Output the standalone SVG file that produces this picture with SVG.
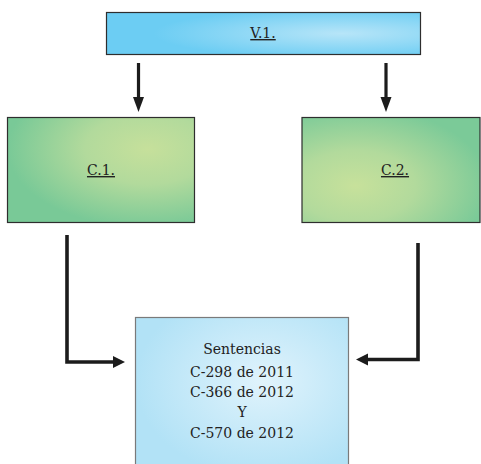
<svg xmlns="http://www.w3.org/2000/svg" width="481" height="464" viewBox="0 0 481 464">
  <style>
    .box { stroke: #2e2e2e; stroke-width: 1.2; }
    .lbl { font-family: "DejaVu Serif", "Liberation Serif", serif; font-size: 14px; fill: #222; text-anchor: middle; }
    .u { text-decoration: underline; }
    .wire { fill: none; stroke: #1c1c1c; stroke-width: 3.6; stroke-linejoin: miter; }
    .head { fill: #1c1c1c; }
  </style>
  <defs>
    <radialGradient id="gBlueTop" cx="0.75" cy="0.5" r="0.6">
      <stop offset="0" stop-color="#b7e5f8"/>
      <stop offset="1" stop-color="#6ccdf3"/>
    </radialGradient>
    <radialGradient id="gGreen1" cx="0.75" cy="0.3" r="0.75">
      <stop offset="0" stop-color="#c6e09b"/>
      <stop offset="0.45" stop-color="#b2da9c"/>
      <stop offset="1" stop-color="#79c997"/>
    </radialGradient>
    <radialGradient id="gGreen2" cx="0.3" cy="0.65" r="0.75">
      <stop offset="0" stop-color="#c7e19b"/>
      <stop offset="0.45" stop-color="#b2da9c"/>
      <stop offset="1" stop-color="#7bca98"/>
    </radialGradient>
    <radialGradient id="gBlueLow" cx="0.6" cy="0.4" r="0.6">
      <stop offset="0" stop-color="#e0f3fc"/>
      <stop offset="1" stop-color="#b2e2f6"/>
    </radialGradient>
  </defs>

  <g id="connectors">
    <!-- V.1. down to C.1. and C.2. -->
    <line class="wire" x1="138.5" y1="63" x2="138.5" y2="99" style="stroke-width:3.2"/>
    <polygon class="head" points="133,97 144,97 138.5,112"/>
    <line class="wire" x1="386" y1="63" x2="386" y2="99" style="stroke-width:3.2"/>
    <polygon class="head" points="380.5,97 391.5,97 386,112"/>
    <!-- C.1. to Sentencias -->
    <polyline class="wire" points="67,235 67,362 115,362"/>
    <polygon class="head" points="113,356 125,362 113,368"/>
    <!-- C.2. to Sentencias -->
    <polyline class="wire" points="418,243 418,359.5 367,359.5"/>
    <polygon class="head" points="368,353.5 356,359.5 368,365.5"/>
  </g>

  <g id="v1">
    <rect class="box" x="106.5" y="12.5" width="314" height="42" fill="url(#gBlueTop)"/>
    <text class="lbl u" x="263" y="38">V.1.</text>
  </g>

  <g id="c1">
    <rect class="box" x="7.5" y="117.5" width="187" height="105" fill="url(#gGreen1)"/>
    <text class="lbl u" x="101" y="175">C.1.</text>
  </g>

  <g id="c2">
    <rect class="box" x="302" y="117.5" width="178" height="105" fill="url(#gGreen2)"/>
    <text class="lbl u" x="395" y="175">C.2.</text>
  </g>

  <g id="sentencias">
    <rect x="135.5" y="317.5" width="213" height="160" fill="url(#gBlueLow)" stroke="#7a7a7a" stroke-width="1.2"/>
    <text class="lbl" x="242" y="354">Sentencias</text>
    <text class="lbl" x="242" y="376.5">C-298 de 2011</text>
    <text class="lbl" x="242" y="397">C-366 de 2012</text>
    <text class="lbl" x="242" y="417">Y</text>
    <text class="lbl" x="242" y="438">C-570 de 2012</text>
  </g>
</svg>
